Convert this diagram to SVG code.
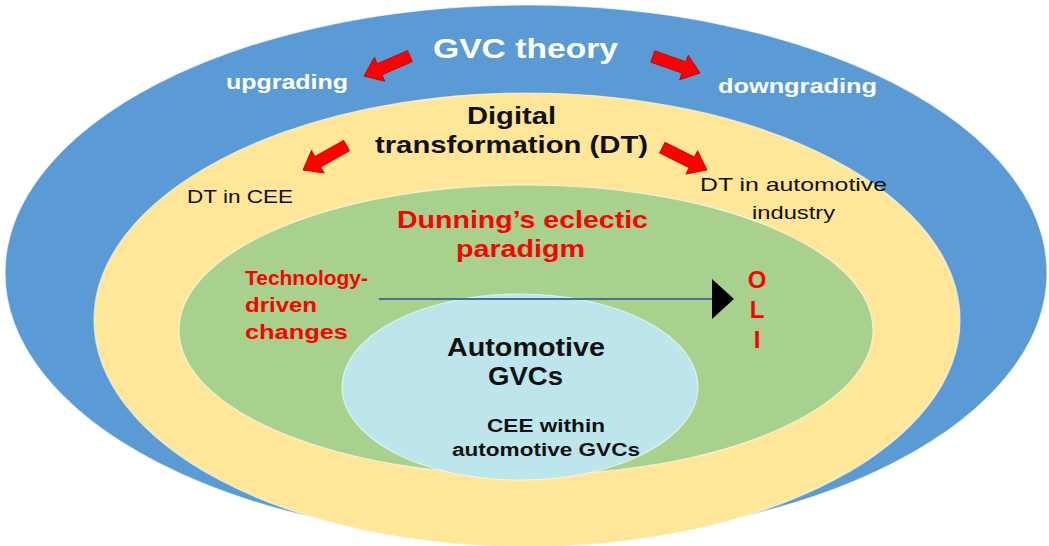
<svg xmlns="http://www.w3.org/2000/svg" width="1049" height="546" viewBox="0 0 1049 546">
  <style>
    .t { font-family: "Liberation Sans", Arial, sans-serif; font-weight: bold; }
    .n { font-family: "Liberation Sans", Arial, sans-serif; font-weight: normal; }
    .w { fill: #ffffff; }
    .k { fill: #111111; }
    .r { fill: #ff0000; }
    .ring { stroke: #ffffff; stroke-opacity: 0.6; stroke-width: 1.2; }
    .blk { fill: #ff0000; stroke: #c00000; stroke-width: 0.8; }
  </style>
  <defs>
    <!-- block arrow, tip at origin pointing along +x -->
    <path id="blockArrow" d="M -50,-6 L -17,-6 L -17,-13 L 0,0 L -17,13 L -17,6 L -50,6 Z"/>
  </defs>

  <rect width="1049" height="546" fill="#ffffff"/>

  <g id="gvc-theory">
    <ellipse class="ring" cx="526" cy="273" rx="521" ry="268" fill="#5b9bd5"/>
    <text class="t w" x="433" y="58" font-size="27" textLength="185" lengthAdjust="spacingAndGlyphs">GVC theory</text>
    <text class="t w" x="226" y="89" font-size="20" textLength="122" lengthAdjust="spacingAndGlyphs">upgrading</text>
    <text class="t w" x="718" y="93" font-size="20" textLength="159" lengthAdjust="spacingAndGlyphs">downgrading</text>
  </g>

  <g id="digital-transformation">
    <ellipse class="ring" cx="527" cy="320" rx="433" ry="227" fill="#ffe699"/>
    <text class="t k" x="467" y="124" font-size="24" textLength="89" lengthAdjust="spacingAndGlyphs">Digital</text>
    <text class="t k" x="375" y="153" font-size="24" textLength="273" lengthAdjust="spacingAndGlyphs">transformation (DT)</text>
    <text class="n k" x="187" y="203" font-size="18.5" textLength="106" lengthAdjust="spacingAndGlyphs">DT in CEE</text>
    <text class="n k" x="700" y="191" font-size="18.5" textLength="187" lengthAdjust="spacingAndGlyphs">DT in automotive</text>
    <text class="n k" x="752" y="219" font-size="18.5" textLength="83" lengthAdjust="spacingAndGlyphs">industry</text>
  </g>

  <g id="eclectic-paradigm">
    <ellipse class="ring" cx="526" cy="330" rx="347" ry="145" fill="#a9d18e"/>
    <text class="t r" x="397" y="228" font-size="24" textLength="251" lengthAdjust="spacingAndGlyphs">Dunning’s eclectic</text>
    <text class="t r" x="456" y="257" font-size="24" textLength="129" lengthAdjust="spacingAndGlyphs">paradigm</text>
    <text class="t r" x="245" y="285" font-size="20" textLength="123" lengthAdjust="spacingAndGlyphs">Technology-</text>
    <text class="t r" x="245" y="312" font-size="20" textLength="72" lengthAdjust="spacingAndGlyphs">driven</text>
    <text class="t r" x="245" y="339" font-size="20" textLength="103" lengthAdjust="spacingAndGlyphs">changes</text>
    <text class="t r" x="757" y="288" font-size="24" text-anchor="middle">O</text>
    <text class="t r" x="757" y="318" font-size="24" text-anchor="middle">L</text>
    <text class="t r" x="757" y="348" font-size="24" text-anchor="middle">I</text>
  </g>

  <g id="automotive-gvcs">
    <ellipse class="ring" cx="520" cy="387" rx="178" ry="93" fill="#bde5ec"/>
    <text class="t k" x="447" y="356" font-size="25" textLength="158" lengthAdjust="spacingAndGlyphs">Automotive</text>
    <text class="t k" x="488" y="385" font-size="25" textLength="75" lengthAdjust="spacingAndGlyphs">GVCs</text>
    <text class="t k" x="487" y="432" font-size="18" textLength="118" lengthAdjust="spacingAndGlyphs">CEE within</text>
    <text class="t k" x="452" y="456" font-size="18" textLength="188" lengthAdjust="spacingAndGlyphs">automotive GVCs</text>
  </g>

  <g id="connectors">
    <use href="#blockArrow" class="blk" transform="translate(364,76) rotate(156.6)"/>
    <use href="#blockArrow" class="blk" transform="translate(700,73) rotate(19.2)"/>
    <use href="#blockArrow" class="blk" transform="translate(303,170) rotate(150.8)"/>
    <use href="#blockArrow" class="blk" transform="translate(707,170) rotate(26.6)"/>
    <line x1="379" y1="299" x2="714" y2="299" stroke="#41719c" stroke-width="1.8"/>
    <path d="M 712,279 L 734,299 L 712,319 Z" fill="#000000"/>
  </g>
</svg>
